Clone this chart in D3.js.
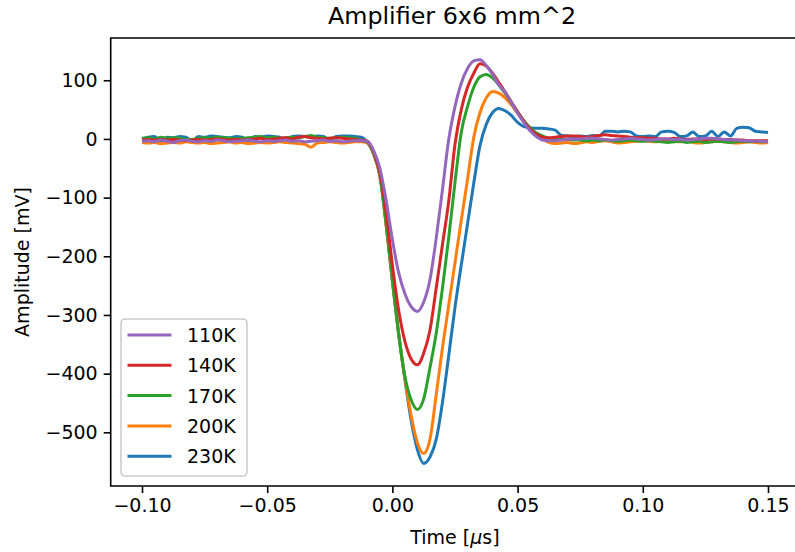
<!DOCTYPE html>
<html>
<head>
<meta charset="utf-8">
<script src="https://cdn.jsdelivr.net/npm/d3@7"></script>
<style>
body { margin: 0; background: #fff; }
text { font-family: "DejaVu Sans", sans-serif; fill: #000; }
</style>
</head>
<body>
<div id="divGrafico"></div>
<script>
// eje de tiempo (us), paso 0.0025
var tiempo = d3.range(101).map(function (i) { return +(-0.1 + i * 0.0025).toFixed(4); });

var etiquetas = ["110K", "140K", "170K", "200K", "230K"];
var colores = ["#9467bd", "#d62728", "#2ca02c", "#ff7f0e", "#1f77b4"];

var amp110 = [-4, -3, -5, -2, -4, -6, -3, -2, -4, -5, -3, -4, -2, -3, -5, -4, -3, -2, -4, -5,
    -3, -4, -3, -2, -4, -3, -5, -4, -3, -2, -4, -3, -5, -4, -3,
    -3, -4, -20, -50, -105, -172, -228, -264, -286, -294, -278, -240, -169, -86, -1,
    55, 95, 120, 133, 135, 125, 110, 92, 80, 62, 44, 28, 14, 4, -2,
    -3, -3, -2, -1, 0, 0, 1, 1, 0, -1, -2, -1, 0, 1, 0, -1, -2, -1, 0, 0,
    -1, -1, -2, -1, 0, 1, 1, 0, -1, -2, -2, -3, -3, -4, -4, -5];
var amp140 = [-2, -1, -2, -1, -2, -1, -2, -3, -2, -1, -2, -1, 0, -1, -2, -1, -2, -1, 0, 1,
    -1, 0, 1, 2, 0, 3, 4, 2, 1, 0, 1, 2, 1, 0, -1,
    -2, -4, -22, -58, -125, -215, -292, -345, -375, -385, -365, -326, -254, -180, -106,
    -9, 50, 88, 112, 128, 124, 112, 96, 80, 63, 46, 30, 17, 8, 3,
    2, 3, 4, 5, 5, 4, 3, 4, 6, 7, 6, 5, 4, 3, 2, 2, 1, 1, 0, 0,
    1, 0, -1, 0, 0, -1, 0, 0, -1, -1, -2, -2, -3, -3, -3, -3];
var amp170 = [1, 2, 0, 3, 1, 2, 1, 0, -1, 1, 2, 1, 3, 2, 1, 0, 1, 2, 3, 4,
    2, 3, 1, 2, 3, 2, 4, 6, 3, 2, 1, 2, 3, 2, 1,
    -2, -5, -25, -62, -145, -240, -332, -405, -445, -461, -443, -390, -331, -254, -168,
    -74, 11, 55, 88, 106, 110, 104, 92, 78, 62, 46, 31, 19, 10, 5,
    1, 0, -1, -1, -2, -2, -3, -2, -3, -2, -3, -4, -3, -2, -3, -4, -3, -4, -5, -6,
    -5, -4, -6, -5, -4, -6, -5, -4, -5, -6, -5, -4, -5, -4, -5, -4];
var amp200 = [-6, -7, -6, -8, -7, -6, -7, -5, -6, -7, -6, -8, -7, -6, -5, -7, -6, -8, -7, -6,
    -7, -6, -5, -6, -7, -8, -9, -14, -7, -6, -5, -6, -7, -6, -5,
    -5, -7, -26, -63, -146, -242, -332, -408, -472, -518, -536, -512, -436, -356, -283,
    -211, -139, -69, 3, 45, 70, 81, 78, 70, 58, 44, 30, 18, 8, 0,
    -6, -8, -7, -6, -8, -7, -5, -6, -4, -3, -5, -7, -6, -5, -4, -3, -4, -5, -4, -3,
    -4, -5, -4, -6, -7, -6, -5, -4, -5, -6, -7, -6, -5, -6, -7, -6];
var amp230 = [0, 3, 4, -5, 3, 2, 4, 3, -4, 4, 3, 5, 4, 3, 2, 4, 3, -5, 4, 3,
    5, 4, 3, -6, 4, 5, 4, 3, 5, 4, -3, 4, 5, 5, 4,
    3, -6, -25, -62, -146, -242, -333, -410, -480, -530, -553, -542, -512, -449, -369,
    -287, -215, -145, -75, -11, 25, 45, 52, 48, 40, 28, 21, 19, 18, 18,
    17, 15, 6, 5, 4, 5, 4, 6, 5, 13, 13, 12, 13, 12, 5, 4, 5, 4, 12, 13,
    11, 4, 5, 12, 4, 5, 13, 4, 12, 5, 18, 20, 19, 13, 12, 11];

var series = [amp110, amp140, amp170, amp200, amp230];

var ticksX = [-0.1, -0.05, 0, 0.05, 0.1, 0.15];
var ticksY = [100, 0, -100, -200, -300, -400, -500];

var width = 795, height = 552;
var margin = { top: 38, right: -4.3, bottom: 66, left: 110.7 };
var fs = 19;

var canvas = d3.select("#divGrafico").append("svg").attr("width", width).attr("height", height);

var x = d3.scaleLinear().domain([-0.1125, 0.1625]).range([margin.left, width - margin.right]);
var y = d3.scaleLinear().domain([-591.5, 172]).range([height - margin.bottom, margin.top]);

// curvas: 230K primero, 110K encima
var linea = d3.line()
    .x(function (d, i) { return x(tiempo[i]); })
    .y(function (d) { return y(d); })
    .curve(d3.curveMonotoneX);

var orden = [4, 3, 2, 1, 0];
canvas.append("g").selectAll("path")
    .data(orden)
    .enter().append("path")
    .attr("d", function (k) { return linea(series[k]); })
    .attr("fill", "none")
    .attr("stroke", function (k) { return colores[k]; })
    .attr("stroke-width", 3)
    .attr("stroke-linejoin", "round");

// ejes
var ejeX = canvas.append("g")
    .attr("transform", "translate(0," + y.range()[0] + ")")
    .call(d3.axisBottom(x).tickValues(ticksX).tickFormat(d3.format(".2f")).tickSize(7).tickPadding(6).tickSizeOuter(0));
var ejeY = canvas.append("g")
    .attr("transform", "translate(" + x.range()[0] + ",0)")
    .call(d3.axisLeft(y).tickValues(ticksY).tickFormat(d3.format("d")).tickSize(7).tickPadding(6).tickSizeOuter(0));

[ejeX, ejeY].forEach(function (g) {
    g.select(".domain").remove();
    g.selectAll(".tick line").attr("stroke", "#000").attr("stroke-width", 1.6);
    g.selectAll(".tick text").attr("font-size", fs).attr("font-family", "DejaVu Sans").attr("fill", "#000");
});

// marco
var x0 = x.range()[0], x1 = x.range()[1], y0 = y.range()[0], y1 = y.range()[1];
canvas.append("path")
    .attr("d", "M" + x1 + "," + y0 + "H" + x0 + "V" + y1 + "H" + x1 + "V" + y0)
    .attr("fill", "none")
    .attr("stroke", "#000")
    .attr("stroke-width", 1.6);

// textos
canvas.append("text")
    .attr("x", (x0 + x1) / 2 - 3)
    .attr("y", 24)
    .attr("text-anchor", "middle")
    .attr("font-size", 23.8)
    .text("Amplifier 6x6 mm^2");

var tx = canvas.append("text")
    .attr("x", (x0 + x1) / 2)
    .attr("y", 544)
    .attr("text-anchor", "middle")
    .attr("font-size", fs);
tx.append("tspan").text("Time [");
tx.append("tspan").attr("font-style", "italic").text("\u03bc");
tx.append("tspan").text("s]");

canvas.append("text")
    .attr("transform", "translate(29," + (y0 + y1) / 2 + ") rotate(-90)")
    .attr("text-anchor", "middle")
    .attr("font-size", fs)
    .text("Amplitude [mV]");

// leyenda
var leyenda = canvas.append("g");
leyenda.append("rect")
    .attr("x", 121).attr("y", 319)
    .attr("width", 126).attr("height", 157)
    .attr("rx", 4)
    .attr("fill", "#fff").attr("fill-opacity", 0.8)
    .attr("stroke", "#cccccc").attr("stroke-width", 1.6);

var item = leyenda.selectAll(".item")
    .data(etiquetas)
    .enter().append("g")
    .attr("class", "item")
    .attr("transform", function (d, i) { return "translate(0," + (335 + i * 30.3) + ")"; });
item.append("line")
    .attr("x1", 127.5).attr("x2", 171.5)
    .attr("stroke", function (d, i) { return colores[i]; })
    .attr("stroke-width", 3);
item.append("text")
    .attr("x", 187)
    .attr("y", 7)
    .attr("font-size", fs)
    .text(function (d) { return d; });
</script>
</body>
</html>
